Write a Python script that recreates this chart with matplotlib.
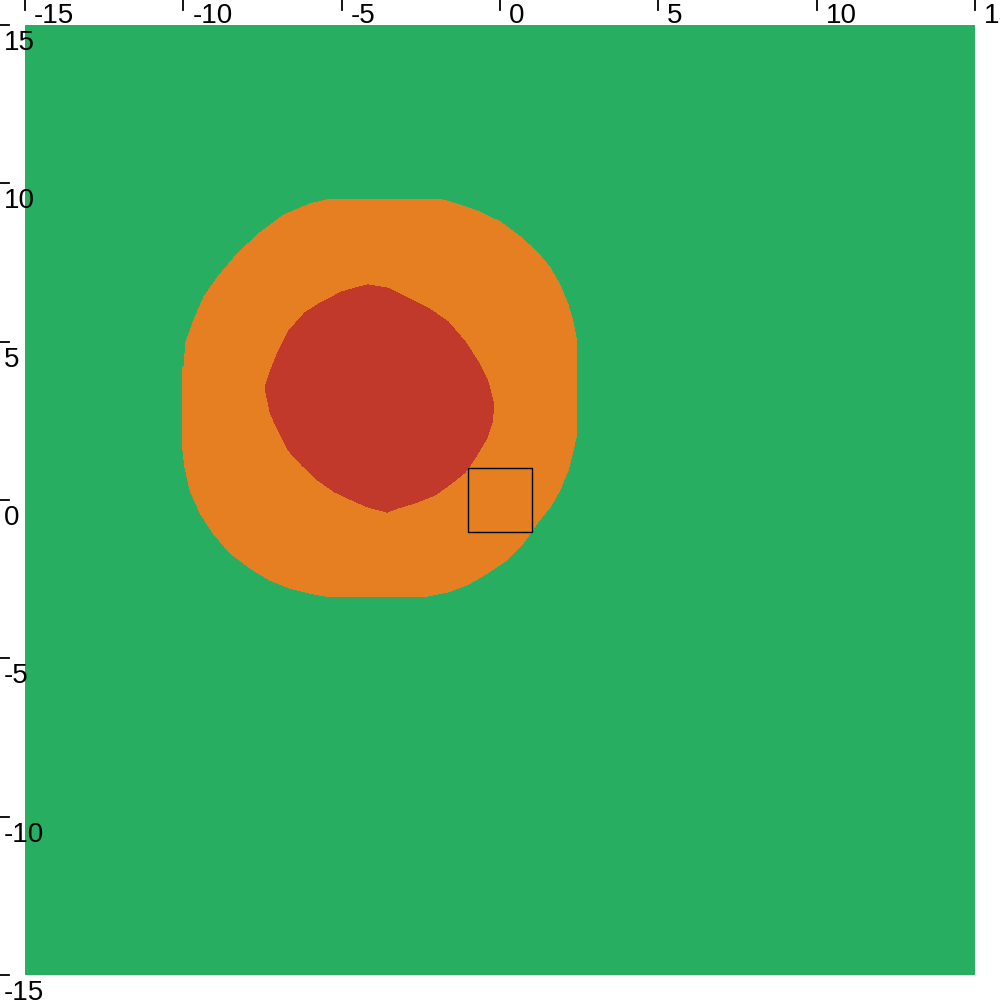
import matplotlib
matplotlib.use("Agg")
import matplotlib.pyplot as plt
from matplotlib.patches import Polygon, Rectangle
from matplotlib.lines import Line2D
import matplotlib.transforms as mtransforms

# region outlines (data units)
outer_x = [-5.37, -1.89, -1.26, -0.63, 0.00, 0.63, 1.17, 1.58, 1.89, 2.15, 2.31, 2.43,
           2.43, 2.31, 2.15, 1.89, 1.58, 1.17, 0.73, 0.22, -0.41, -1.04, -1.67, -2.43,
           -5.37, -6.00, -6.63, -7.26, -7.89, -8.53, -9.06, -9.47, -9.79, -9.95, -10.04,
           -10.04, -9.98, -9.92, -9.70, -9.35, -8.91, -8.27, -7.55, -6.82, -6.00]
outer_y = [9.50, 9.50, 9.31, 9.09, 8.78, 8.31, 7.83, 7.33, 6.79, 6.16, 5.59, 4.96,
           2.12, 1.58, 0.95, 0.32, -0.22, -0.73, -1.36, -1.89, -2.31, -2.68, -2.91, -3.06,
           -3.06, -2.94, -2.78, -2.53, -2.15, -1.67, -1.04, -0.41, 0.32, 1.04, 1.80,
           4.20, 4.20, 4.96, 5.59, 6.41, 7.04, 7.80, 8.46, 9.00, 9.35]

inner_x = [-4.17, -3.54, -2.91, -2.27, -1.64, -1.10, -0.69, -0.38, -0.19, -0.25, -0.41,
           -0.79, -1.10, -1.52, -2.05, -2.68, -3.22, -3.57, -4.17, -4.67, -5.21, -5.75,
           -6.25, -6.69, -7.04, -7.26, -7.42, -7.26, -7.01, -6.69, -6.16, -5.62, -4.99, -4.58]
inner_y = [6.79, 6.69, 6.38, 6.06, 5.62, 4.99, 4.36, 3.73, 2.99, 2.46, 1.96,
           1.33, 0.88, 0.54, 0.16, -0.09, -0.25, -0.38, -0.22, 0.00, 0.25, 0.63,
           1.10, 1.58, 2.27, 2.78, 3.54, 4.04, 4.67, 5.31, 5.91, 6.25, 6.57, 6.69]

box_x = [-1, 1]
box_y = [-1, 1]

ticks = [-15, -10, -5, 0, 5, 10, 15]

green = "#27ae60"
orange = "#e67e22"
red = "#c0392b"

plt.rcParams['font.family'] = ['Liberation Sans', 'DejaVu Sans']

fig = plt.figure(figsize=(10, 10), dpi=100)
ax = fig.add_axes([0.025, 0.025, 0.95, 0.95])
ax.set_xlim(-15, 15)
ax.set_ylim(-15, 15)
ax.set_facecolor(green)
for s in ax.spines.values():
    s.set_visible(False)
ax.set_xticks([])
ax.set_yticks([])

ax.add_patch(Polygon(list(zip(outer_x, outer_y)), closed=True, facecolor=orange,
                     edgecolor='none', antialiased=False))
ax.add_patch(Polygon(list(zip(inner_x, inner_y)), closed=True, facecolor=red,
                     edgecolor='none', antialiased=False))
ax.add_patch(Rectangle((box_x[0], box_y[0]), box_x[1] - box_x[0], box_y[1] - box_y[0],
                       facecolor='none', edgecolor='black', lw=1.0))

top_tr = mtransforms.blended_transform_factory(ax.transData, fig.transFigure)
left_tr = mtransforms.blended_transform_factory(fig.transFigure, ax.transData)

for v in ticks:
    fig.add_artist(Line2D([v, v], [1.0, 0.99], transform=top_tr, color='black', lw=1.3))
    fig.add_artist(Line2D([0.0, 0.009], [v, v], transform=left_tr, color='black', lw=1.3))
    ax.annotate(str(v), xy=(v, 1.0), xycoords=('data', 'figure fraction'),
                xytext=(9, -23), textcoords='offset pixels', ha='left', va='baseline',
                fontsize=20, annotation_clip=False)
    ax.annotate(str(v), xy=(0.0, v), xycoords=('figure fraction', 'data'),
                xytext=(4, -25), textcoords='offset pixels', ha='left', va='baseline',
                fontsize=20, annotation_clip=False)

fig.savefig("out.png", dpi=100)
